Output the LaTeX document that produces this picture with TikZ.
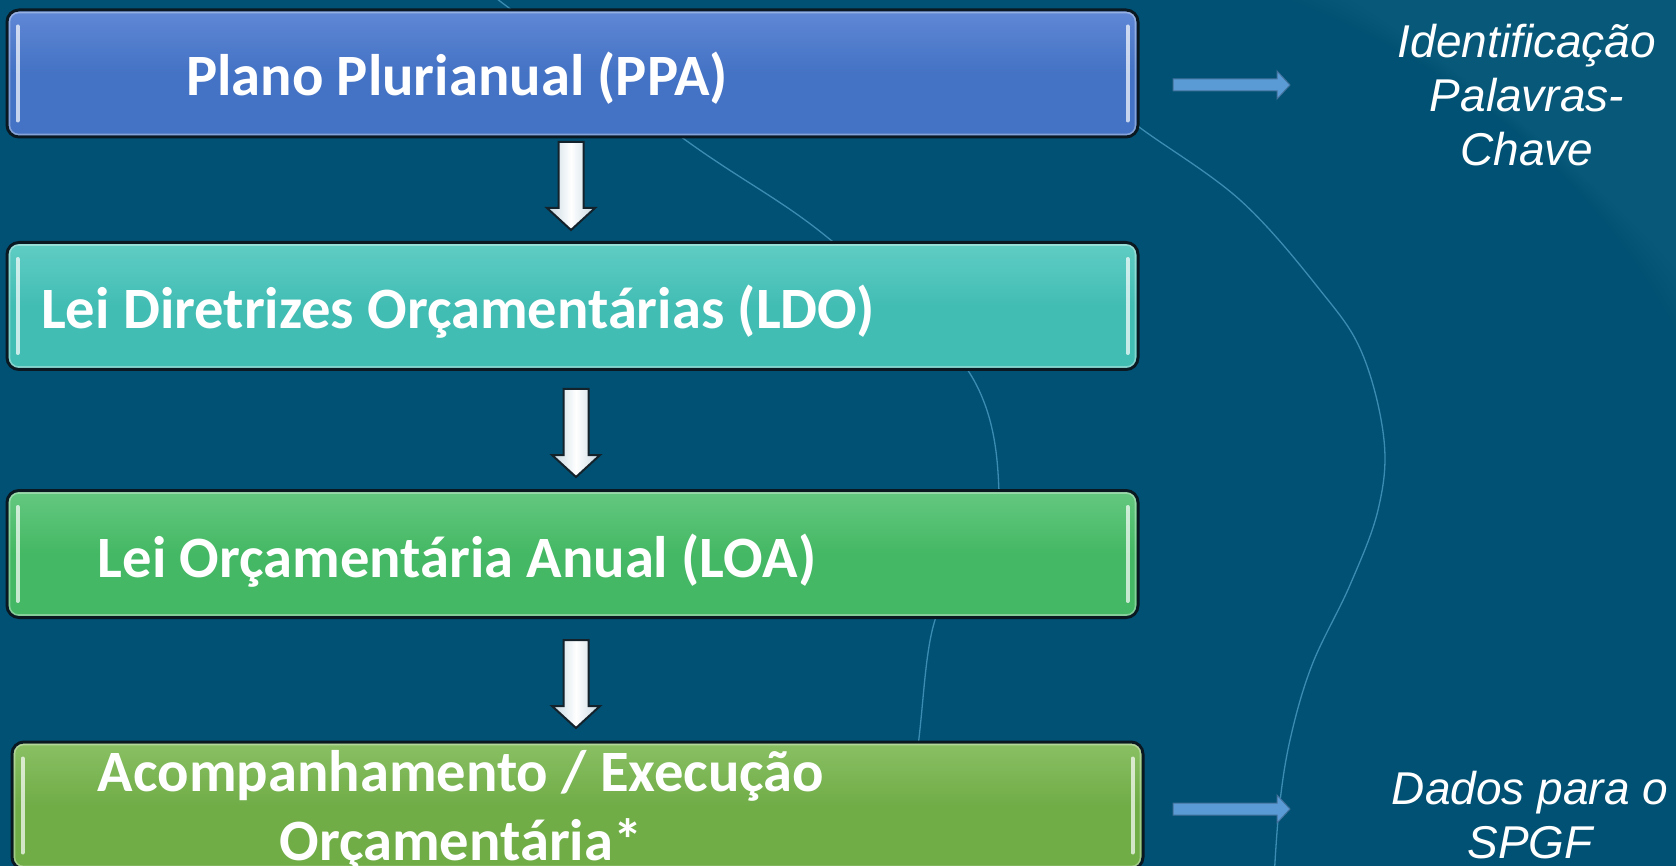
\documentclass[tikz,border=0pt]{standalone}
\usepackage{fontspec}
\setmainfont{Carlito}
\newfontfamily\arialfont{Liberation Sans}
\usetikzlibrary{calc}
\definecolor{bgc}{RGB}{0,81,115}
\definecolor{curvec}{RGB}{80,160,200}
\definecolor{boxline}{RGB}{10,24,34}
\definecolor{blueA}{RGB}{68,114,196}
\definecolor{blueT}{RGB}{96,136,214}
\definecolor{tealA}{RGB}{66,189,180}
\definecolor{tealT}{RGB}{96,205,196}
\definecolor{greenA}{RGB}{68,184,100}
\definecolor{greenT}{RGB}{100,200,128}
\definecolor{oliveA}{RGB}{112,173,71}
\definecolor{oliveT}{RGB}{138,192,100}
\definecolor{arrside}{RGB}{196,214,224}
\definecolor{arrline}{RGB}{20,34,44}
\definecolor{rfillc}{RGB}{91,155,213}
\definecolor{rlinec}{RGB}{65,113,156}
\tikzset{
  box/.style={draw=boxline, line width=3pt, rounded corners=12pt,
    minimum width=1131pt, minimum height=127pt, inner sep=0pt},
  boxtext/.style={text=white, font=\bfseries\fontsize{58.6}{62}\selectfont,
    align=center, inner sep=0pt},
  sidetext/.style={text=white, font=\arialfont\itshape\fontsize{46}{54}\selectfont,
    align=center, inner sep=0pt},
  bgcurve/.style={draw=curvec, line width=1.3pt, opacity=0.75},
  hl/.style={draw=white, line width=4pt, line cap=round, opacity=0.7},
  bevel/.style={draw=white, line width=1.6pt, opacity=0.35, rounded corners=9pt},
  downarr/.pic={
    \filldraw[draw=arrline, line width=2pt, line join=miter,
      left color=arrside, right color=arrside, middle color=white]
      (-12.5,0) -- (12.5,0) -- (12.5,66) -- (24,66) -- (0,88) -- (-24,66)
      -- (-12.5,66) -- cycle;
  },
  rightarr/.pic={
    \filldraw[fill=rfillc, draw=rlinec, line width=1pt]
      (0,-6) -- (104,-6) -- (104,-14) -- (117,0) -- (104,14) -- (104,6)
      -- (0,6) -- cycle;
  }
}
\newcommand{\glossbox}[1]{%
  \path[bevel] ($(#1.north west)+(4,4)$) rectangle ($(#1.south east)+(-4,-4)$);
  \draw[hl] ($(#1.north west)+(12,18)$) -- ($(#1.south west)+(12,-18)$);
  \draw[hl] ($(#1.north east)+(-12,18)$) -- ($(#1.south east)+(-12,-18)$);
}
\begin{document}
\begin{tikzpicture}[x=1pt,y=-1pt]
\useasboundingbox (0,0) rectangle (1676,866);
\fill[bgc] (0,0) rectangle (1676,866);
\begin{scope}
\clip (0,0) rectangle (1676,866);
% soft lighter glow at the top right
\foreach \d in {0,10,20,30,40,50,60}{
  \fill[white, opacity=0.008] ($(1290,0)+(\d,0)$) .. controls (1450,60) and (1600,180) .. ($(1676,330)+(0,-\d)$) -- (1676,0) -- cycle;
}
% thin background curves
\draw[bgcurve] plot[smooth, tension=0.6] coordinates
  {(480,-14) (684,139) (827,237) (967,369) (999,492) (975,560) (935,620) (919,738) (905,880)};
\draw[bgcurve] plot[smooth, tension=0.6] coordinates
  {(1080,80) (1139,127) (1240,200) (1320,290) (1362,353) (1384,440) (1378,510) (1350,585) (1312,665) (1290,740) (1279,810) (1274,880)};
\end{scope}

% boxes
\node[box, top color=blueT, bottom color=blueA, middle color=blueA] (b1) at (572.5,73.5) {};
\glossbox{b1}
\node[box, top color=tealT, bottom color=tealA, middle color=tealA] (b2) at (572.5,306) {};
\glossbox{b2}
\node[box, top color=greenT, bottom color=greenA, middle color=greenA] (b3) at (572.5,554) {};
\glossbox{b3}
\node[box, top color=oliveT, bottom color=oliveA, middle color=oliveA] (b4) at (577.5,805.5) {};
\glossbox{b4}

% box labels
\node[boxtext, anchor=base] (l1) at (457,96) {Plano Plurianual (PPA)};
\node[boxtext, anchor=base] (l2) at (458,329) {Lei Diretrizes Orçamentárias (LDO)};
\node[boxtext, anchor=base] (l3) at (457,577) {Lei Orçamentária Anual (LOA)};
\node[boxtext] (l4) at (461,810) {Acompanhamento / Execução\\[7pt]Orçamentária*};

% down arrows between boxes
\coordinate (d1) at (571,142);
\coordinate (d2) at (576,389);
\coordinate (d3) at (576,640);
\pic at (d1) {downarr};
\pic at (d2) {downarr};
\pic at (d3) {downarr};

% side arrows and texts
\coordinate (r1) at (1173,85);
\coordinate (r2) at (1173,809);
\pic at (r1) {rightarr};
\pic at (r2) {rightarr};
\node[sidetext] (k1) at (1527,95) {Identificação\\Palavras-\\Chave};
\node[sidetext] (k2) at (1530,815) {Dados para o\\SPGF};
\end{tikzpicture}
\end{document}
